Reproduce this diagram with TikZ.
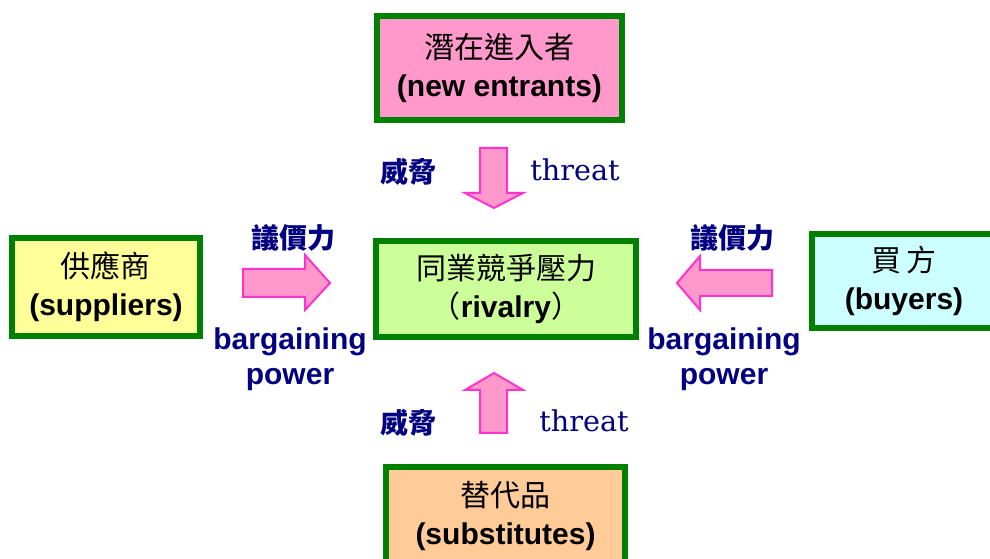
\documentclass[tikz,border=0pt]{standalone}
\usepackage{fontspec}
\setmainfont{Liberation Sans}
\newfontfamily\cjk{Noto Sans CJK TC}
\newfontfamily\threatfont{DejaVu Serif}
\definecolor{boxgreen}{HTML}{008000}
\definecolor{fillpink}{HTML}{FF99CC}
\definecolor{fillyellow}{HTML}{FFFF99}
\definecolor{fillgreen}{HTML}{CCFF99}
\definecolor{fillcyan}{HTML}{CCFFFF}
\definecolor{fillorange}{HTML}{FFCC99}
\definecolor{arrowmag}{HTML}{FF33CC}
\definecolor{arrowpink}{HTML}{FF99CC}
\definecolor{navy}{HTML}{000080}
\begin{document}
\begin{tikzpicture}[x=0.75pt,y=-0.75pt,
  forcebox/.style={draw=boxgreen, line width=4.5pt, inner sep=0pt, align=center,
    font=\bfseries\fontsize{22.5}{28.5}\selectfont},
  boxtext/.style={inner sep=0pt, align=center, font=\bfseries\fontsize{22.5}{28.5}\selectfont},
  blockarrow/.style={draw=arrowmag, fill=arrowpink, line width=1.5pt, line join=miter},
  cjklabel/.style={text=navy, inner sep=0pt, font=\cjk\bfseries\fontsize{21}{26}\selectfont},
  threatlabel/.style={text=navy, inner sep=0pt, font=\threatfont\fontsize{21.5}{26}\selectfont},
  powerlabel/.style={text=navy, inner sep=0pt, align=center, font=\bfseries\fontsize{22.5}{26.5}\selectfont}
]
\useasboundingbox (0,0) rectangle (990,559);

% boxes
\node[forcebox, fill=fillpink, minimum width=183.75pt, minimum height=78pt] (entrants) at (499.5,68)
  {{\cjk\mdseries 潛在進入者}\\(new entrants)};
\node[forcebox, fill=fillyellow, minimum width=141pt, minimum height=73.5pt] (suppliers) at (106,287)
  {{\cjk\mdseries 供應商}\\(suppliers)};
\node[forcebox, fill=fillgreen, minimum width=195pt, minimum height=72pt] (rivalry) at (506,289)
  {{\cjk\mdseries 同業競爭壓力}\\{\cjk\mdseries （}rivalry{\cjk\mdseries ）}};
\node[forcebox, fill=fillcyan, minimum width=150pt, minimum height=70.5pt] (buyers) at (912,281) {};
\node[boxtext] (buyerstext) at (904,281) {{\cjk\mdseries 買\,方}\\(buyers)};
\node[forcebox, fill=fillorange, minimum width=179.25pt, minimum height=73.5pt] (substitutes) at (505.5,516)
  {{\cjk\mdseries 替代品}\\(substitutes)};

% block arrows
\draw[blockarrow] (480,148) -- (507,148) -- (507,193) -- (523,193) -- (494,208) -- (465,193) -- (480,193) -- cycle;
\draw[blockarrow] (480,433) -- (507,433) -- (507,390) -- (523,390) -- (494,373) -- (465,390) -- (480,390) -- cycle;
\draw[blockarrow] (243,269) -- (305,269) -- (305,255) -- (330,283) -- (305,310) -- (305,297) -- (243,297) -- cycle;
\draw[blockarrow] (772,270) -- (700,270) -- (700,256) -- (677,283) -- (700,310) -- (700,296) -- (772,296) -- cycle;

% labels
\node[cjklabel] (threatcjktop) at (408,172) {威脅};
\node[threatlabel] (threattop) at (575,170) {threat};
\node[cjklabel] (threatcjkbot) at (408,423) {威脅};
\node[threatlabel] (threatbot) at (584,421) {threat};
\node[cjklabel] (bargcjkleft) at (293,238) {議價力};
\node[cjklabel] (bargcjkright) at (732,238) {議價力};
\node[powerlabel] (bargleft) at (290,359) {bargaining\\power};
\node[powerlabel] (bargright) at (724,359) {bargaining\\power};
\end{tikzpicture}
\end{document}
